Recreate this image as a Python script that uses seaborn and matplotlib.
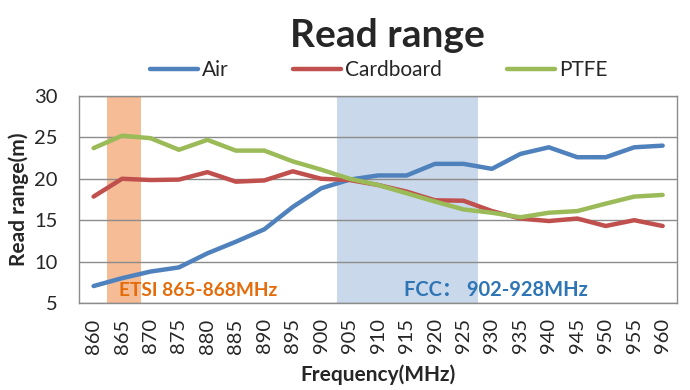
import numpy as np
import pandas as pd
import matplotlib
matplotlib.use("Agg")
import matplotlib.pyplot as plt
import seaborn as sns

freqs = [860, 865, 870, 875, 880, 885, 890, 895, 900, 905, 910,
         915, 920, 925, 930, 935, 940, 945, 950, 955, 960]
air = [7.05, 8.0, 8.8, 9.3, 11.0, 12.4, 13.9, 16.6, 18.85, 19.9, 20.4,
       20.4, 21.8, 21.8, 21.2, 23.0, 23.8, 22.6, 22.6, 23.8, 24.0]
cardboard = [17.85, 20.0, 19.85, 19.9, 20.8, 19.65, 19.8, 20.9, 20.0, 19.85, 19.25,
             18.45, 17.4, 17.35, 16.1, 15.2, 14.9, 15.2, 14.3, 15.0, 14.3]
ptfe = [23.7, 25.2, 24.9, 23.5, 24.7, 23.4, 23.4, 22.1, 21.1, 20.0, 19.25,
        18.25, 17.25, 16.3, 15.9, 15.35, 15.9, 16.1, 17.0, 17.85, 18.05]
series_names = ["Air", "Cardboard", "PTFE"]
palette = ["#4F81BD", "#C0504D", "#9BBB59"]

df = pd.DataFrame({"Frequency": [str(f) for f in freqs],
                   "Air": air, "Cardboard": cardboard, "PTFE": ptfe})
long_df = df.melt(id_vars="Frequency", var_name="Material", value_name="Range")

sns.set_style("white")
plt.rcParams["font.family"] = ["Lato", "DejaVu Sans"]

fig = plt.figure(figsize=(6.9, 3.9), dpi=100)
ax = fig.add_axes([0.115, 0.223, 0.866, 0.531])

# frequency bands (category positions)
ax.axvspan(0.47, 1.66, color="#F4B183", alpha=0.85, lw=0, zorder=0)
ax.axvspan(8.54, 13.52, color="#C9D8EA", lw=0, zorder=0)

sns.lineplot(data=long_df, x="Frequency", y="Range", hue="Material",
             hue_order=series_names, palette=palette, linewidth=3.2,
             sort=False, ax=ax, legend=False, zorder=3)

ax.set_xlim(-0.5, len(freqs) - 0.5)
ax.set_ylim(5, 30)
ax.set_yticks([5, 10, 15, 20, 25, 30])
ax.yaxis.grid(True, color="#8C8C8C", lw=1.0)
ax.set_axisbelow(True)
for s in ax.spines.values():
    s.set_color("#8C8C8C")
    s.set_linewidth(1.0)
ax.tick_params(axis="x", rotation=90, labelsize=14.5, length=0, pad=11)
ax.tick_params(axis="y", labelsize=14.5, length=0, pad=15.5)
ax.set_xlabel("Frequency(MHz)", fontsize=15, fontweight="bold", labelpad=8)
ax.set_ylabel("Read range(m)", fontsize=15, fontweight="bold", labelpad=3.5)

ax.text(0.9, 5.9, "ETSI 865-868MHz", color="#E46C0A", fontsize=13.8,
        fontweight="bold", va="baseline", ha="left", zorder=4)
ax.text(10.9, 5.9, "FCC\uff1a 902-928MHz", color="#2E75B6", fontsize=14.5,
        fontweight="bold", va="baseline", ha="left", zorder=4,
        family=["Lato", "Noto Sans CJK SC"])

fig.text(0.562, 0.91, "Read range", fontsize=28, fontweight="bold",
         ha="center", va="center")

handles = [plt.Line2D([], [], color=c, lw=3.2) for c in palette]
fig.legend(handles, series_names, loc="center", bbox_to_anchor=(0.549, 0.82),
           ncol=3, frameon=False, fontsize=15, handlelength=2.3,
           handletextpad=0.2, columnspacing=3.1)

fig.savefig("out.png", dpi=100)
